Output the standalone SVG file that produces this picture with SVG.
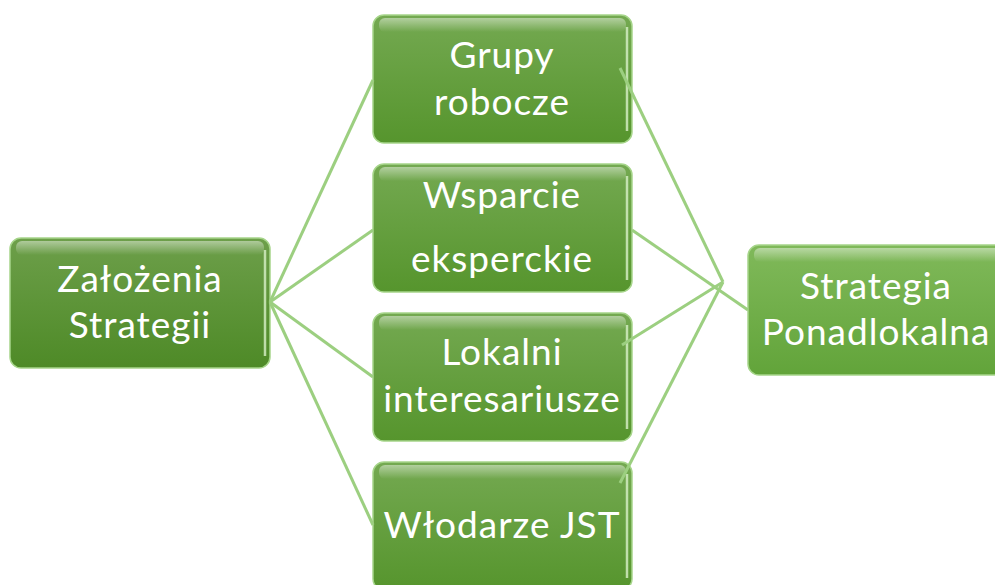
<svg xmlns="http://www.w3.org/2000/svg" width="995" height="585" viewBox="0 0 995 585">
<defs>
<linearGradient id="gL" x1="0" y1="0" x2="0" y2="1"><stop offset="0" stop-color="#6d9f4a"/><stop offset="1" stop-color="#4e8a27"/></linearGradient>
<linearGradient id="gM" x1="0" y1="0" x2="0" y2="1"><stop offset="0" stop-color="#74a951"/><stop offset="1" stop-color="#56952d"/></linearGradient>
<linearGradient id="gR" x1="0" y1="0" x2="0" y2="1"><stop offset="0" stop-color="#80b95a"/><stop offset="1" stop-color="#62a43a"/></linearGradient>
<linearGradient id="hl" x1="0" y1="0" x2="0" y2="1"><stop offset="0" stop-color="#ffffff" stop-opacity="0.45"/><stop offset="1" stop-color="#ffffff" stop-opacity="0"/></linearGradient>
</defs>
<style>
.box{stroke:#a6d58a;stroke-width:1.5}
.hi{fill:url(#hl)}
.edge{fill:none;stroke:#d8f0c8;stroke-width:2.5;stroke-opacity:0.8}
.t{font-family:Lato,"Open Sans","Liberation Sans",sans-serif;font-size:37px;letter-spacing:1px;fill:#ffffff;text-anchor:middle}
.c{stroke:#9ccf80;stroke-width:3;fill:none}
</style>
<g id="n-zalozenia">
<rect class="box" x="10" y="238" width="260" height="130" rx="11" fill="url(#gL)"/>
<rect class="hi" x="16" y="241" width="248" height="14" rx="6"/>
<path class="edge" d="M265 250 V356"/>
<text class="t" x="140" y="292">Założenia</text>
<text class="t" x="140" y="338">Strategii</text>
</g>
<g id="n-grupy">
<rect class="box" x="373" y="15" width="259" height="128" rx="11" fill="url(#gM)"/>
<rect class="hi" x="379" y="18" width="247" height="14" rx="6"/>
<path class="edge" d="M627 27 V131"/>
<text class="t" x="502" y="68">Grupy</text>
<text class="t" x="502" y="115">robocze</text>
</g>
<g id="n-wsparcie">
<rect class="box" x="373" y="164" width="259" height="128" rx="11" fill="url(#gM)"/>
<rect class="hi" x="379" y="167" width="247" height="14" rx="6"/>
<path class="edge" d="M627 176 V280"/>
<text class="t" x="502" y="208">Wsparcie</text>
<text class="t" x="502" y="272">eksperckie</text>
</g>
<g id="n-lokalni">
<rect class="box" x="373" y="313" width="259" height="128" rx="11" fill="url(#gM)"/>
<rect class="hi" x="379" y="316" width="247" height="14" rx="6"/>
<path class="edge" d="M627 325 V429"/>
<text class="t" x="502" y="365">Lokalni</text>
<text class="t" x="502" y="412">interesariusze</text>
</g>
<g id="n-wlodarze">
<rect class="box" x="373" y="462" width="259" height="128" rx="11" fill="url(#gM)"/>
<rect class="hi" x="379" y="465" width="247" height="14" rx="6"/>
<path class="edge" d="M627 474 V578"/>
<text class="t" x="502" y="538">Włodarze JST</text>
</g>
<g id="n-strategia">
<rect class="box" x="748" y="245" width="258" height="130" rx="11" fill="url(#gR)"/>
<rect class="hi" x="754" y="248" width="246" height="14" rx="6"/>
<text class="t" x="876" y="299">Strategia</text>
<text class="t" x="876" y="345">Ponadlokalna</text>
</g>
<g id="connectors">
<line class="c" x1="270" y1="302" x2="373" y2="80"/>
<line class="c" x1="270" y1="302" x2="373" y2="230"/>
<line class="c" x1="270" y1="302" x2="373" y2="377"/>
<line class="c" x1="270" y1="302" x2="373" y2="525"/>
<line class="c" x1="620" y1="68" x2="723" y2="282"/>
<line class="c" x1="632" y1="230" x2="748" y2="310"/>
<line class="c" x1="622" y1="345" x2="723" y2="282"/>
<line class="c" x1="620" y1="483" x2="723" y2="282"/>
</g>
</svg>
